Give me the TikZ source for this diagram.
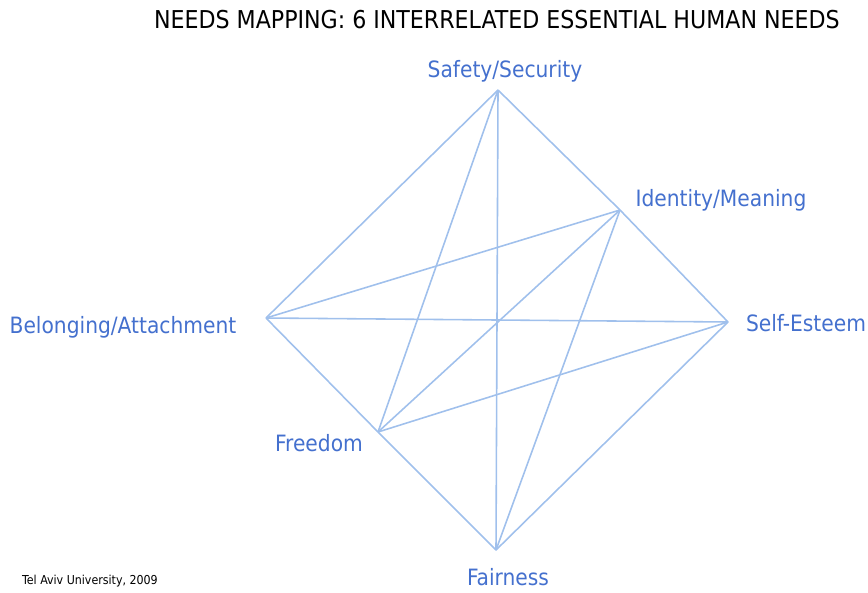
\documentclass[tikz,border=0pt]{standalone}
\usepackage{fontspec}
\setmainfont{DejaVu Sans Condensed}
\usepackage{tikz}
\usetikzlibrary{positioning}
\definecolor{needline}{RGB}{160,192,236}
\definecolor{needtext}{RGB}{68,112,206}
\tikzset{
    link/.style={draw=needline, line width=0.9pt},
    need/.style={text=needtext, font=\fontsize{12.8}{14}\selectfont, inner sep=1pt},
    heading/.style={font=\fontsize{14}{16}\selectfont, inner sep=1pt},
    credit/.style={font=\fontsize{7}{9}\selectfont, inner sep=1pt},
}
\begin{document}
\begin{tikzpicture}[x=0.02cm, y=-0.02cm]
    \useasboundingbox (0,0) rectangle (868,592);

    % Title
    \node[heading] (title) at (497,20) {NEEDS MAPPING: 6 INTERRELATED ESSENTIAL HUMAN NEEDS};

    % Corner points
    \coordinate (safety) at (498,90);
    \coordinate (identity) at (620,210);
    \coordinate (esteem) at (728,322);
    \coordinate (fairness) at (496,550);
    \coordinate (freedom) at (378,432);
    \coordinate (belonging) at (266,318);

    % Labels
    \node[need] (safetyL) at (505,71) {Safety/Security};
    \node[need] (identityL) at (721,200) {Identity/Meaning};
    \node[need] (esteemL) at (806,323) {Self-Esteem};
    \node[need] (fairnessL) at (508,577) {Fairness};
    \node[need] (freedomL) at (319,443) {Freedom};
    \node[need] (belongingL) at (123,327) {Belonging/Attachment};

    % Every need linked to every other
    \foreach \a/\b in {safety/identity, identity/esteem, safety/belonging, safety/freedom,
        safety/fairness, identity/belonging, identity/freedom, identity/fairness,
        esteem/belonging, esteem/freedom, esteem/fairness, belonging/freedom,
        freedom/fairness}
        \draw[link] (\a) -- (\b);

    \node[credit] (source) at (90,581) {Tel Aviv University, 2009};
\end{tikzpicture}
\end{document}
